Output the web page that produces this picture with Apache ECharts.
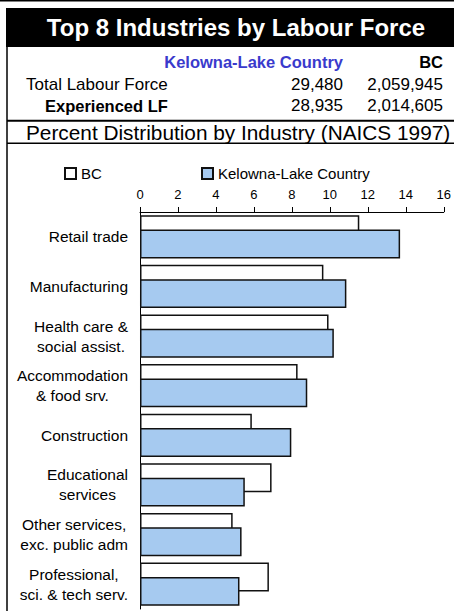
<!DOCTYPE html>
<html>
<head>
<meta charset="utf-8">
<script src="https://cdn.jsdelivr.net/npm/echarts@6/dist/echarts.min.js"></script>
<style>
  html, body { margin: 0; padding: 0; background: #fff; }
  #chart { width: 454px; height: 611px; }
</style>
</head>
<body>
<div id="chart"></div>
<script>
// ---- data ----
const titleText = 'Top 8 Industries by Labour Force';
const regionName = 'Kelowna-Lake Country';
const provinceName = 'BC';
const tableLabels = ['Total Labour Force', 'Experienced LF'];
const regionCounts = ['29,480', '28,935'];
const provinceCounts = ['2,059,945', '2,014,605'];
const subtitleText = 'Percent Distribution by Industry (NAICS 1997)';

const categories = [
  'Retail trade',
  'Manufacturing',
  'Health care &\nsocial assist.',
  'Accommodation\n& food srv.',
  'Construction',
  'Educational\nservices',
  'Other services,\nexc. public adm',
  'Professional,\nsci. & tech serv.'
];
const bcValues = [11.55, 9.66, 9.93, 8.30, 5.89, 6.93, 4.88, 6.79];
const kelownaValues = [13.70, 10.87, 10.21, 8.81, 7.97, 5.52, 5.35, 5.24];
const axisMin = 0, axisMax = 16, axisStep = 2;

// ---- chart ----
const FONT = 'Liberation Sans, Arial, sans-serif';
const chart = echarts.init(document.getElementById('chart'), null, { renderer: 'svg' });

function txt(text, x, y, size, opts) {
  opts = opts || {};
  return {
    type: 'text',
    silent: true,
    style: {
      text: text, x: x, y: y,
      fill: opts.fill || '#000',
      font: (opts.bold ? 'bold ' : '') + size + 'px ' + FONT,
      align: opts.align || 'left',
      verticalAlign: 'middle'
    }
  };
}
function line(x1, y1, x2, y2, w) {
  return { type: 'line', silent: true, shape: { x1: x1, y1: y1, x2: x2, y2: y2 },
           style: { stroke: '#000', lineWidth: w } };
}

const graphics = [
  line(0, 0.75, 454, 0.75, 1.5),
  { type: 'rect', silent: true, shape: { x: 6, y: 8, width: 448, height: 39 }, style: { fill: '#000' } },
  txt(titleText, 236, 27, 24, { bold: true, fill: '#fff', align: 'center' }),
  line(7, 47, 7, 611, 1.5),
  txt(regionName, 343, 62.3, 16.5, { bold: true, fill: '#3a3acc', align: 'right' }),
  txt(provinceName, 443, 62.3, 16.5, { bold: true, align: 'right' }),
  txt(tableLabels[0], 26, 84.2, 17),
  txt(regionCounts[0], 343, 84.2, 17, { align: 'right' }),
  txt(provinceCounts[0], 443, 84.2, 17, { align: 'right' }),
  txt(tableLabels[1], 45, 105.8, 16.5, { bold: true }),
  txt(regionCounts[1], 343, 105.8, 17, { align: 'right' }),
  txt(provinceCounts[1], 443, 105.8, 17, { align: 'right' }),
  line(7, 120.7, 454, 120.7, 2),
  txt(subtitleText, 26, 132.6, 20.8),
  line(7, 143.3, 454, 143.3, 1.5)
];

chart.setOption({
  animation: false,
  backgroundColor: '#fff',
  textStyle: { fontFamily: FONT },
  graphic: graphics,
  legend: [
    {
      data: ['BC'], left: 64, top: 166, padding: 0,
      itemWidth: 11, itemHeight: 11, icon: 'rect',
      textStyle: { fontSize: 15, color: '#000', fontFamily: FONT }
    },
    {
      data: ['Kelowna-Lake Country'], left: 201, top: 166, padding: 0,
      itemWidth: 11, itemHeight: 11, icon: 'rect',
      textStyle: { fontSize: 15, color: '#000', fontFamily: FONT }
    }
  ],
  grid: { left: 140, right: 7, top: 212, height: 397, containLabel: false },
  xAxis: {
    type: 'value', position: 'top',
    min: axisMin, max: axisMax, interval: axisStep,
    axisLine: { show: true, lineStyle: { color: '#000', width: 1 } },
    axisTick: { show: true, length: 5, lineStyle: { color: '#000' } },
    axisLabel: { color: '#000', fontSize: 13, margin: 11, fontFamily: FONT },
    splitLine: { show: false }
  },
  yAxis: {
    type: 'category', inverse: true, data: categories,
    axisLine: { show: true, lineStyle: { color: '#000', width: 1 } },
    axisTick: { show: false },
    axisLabel: {
      margin: 12, align: 'right',
      formatter: function (v) {
        return v.split('\n').map(function (s) { return '{c|' + s + '}'; }).join('\n');
      },
      rich: { c: { fontSize: 15.5, lineHeight: 20, align: 'center', color: '#000', fontFamily: FONT } }
    }
  },
  series: [
    {
      name: 'BC', type: 'bar', data: bcValues,
      barGap: '-50%', barCategoryGap: '12.8%',
      itemStyle: { color: '#ffffff', borderColor: '#111', borderWidth: 1.5 }
    },
    {
      name: 'Kelowna-Lake Country', type: 'bar', data: kelownaValues,
      barGap: '-50%', barCategoryGap: '12.8%',
      itemStyle: { color: '#a6caf0', borderColor: '#111', borderWidth: 1.5 }
    }
  ]
});
</script>
</body>
</html>
